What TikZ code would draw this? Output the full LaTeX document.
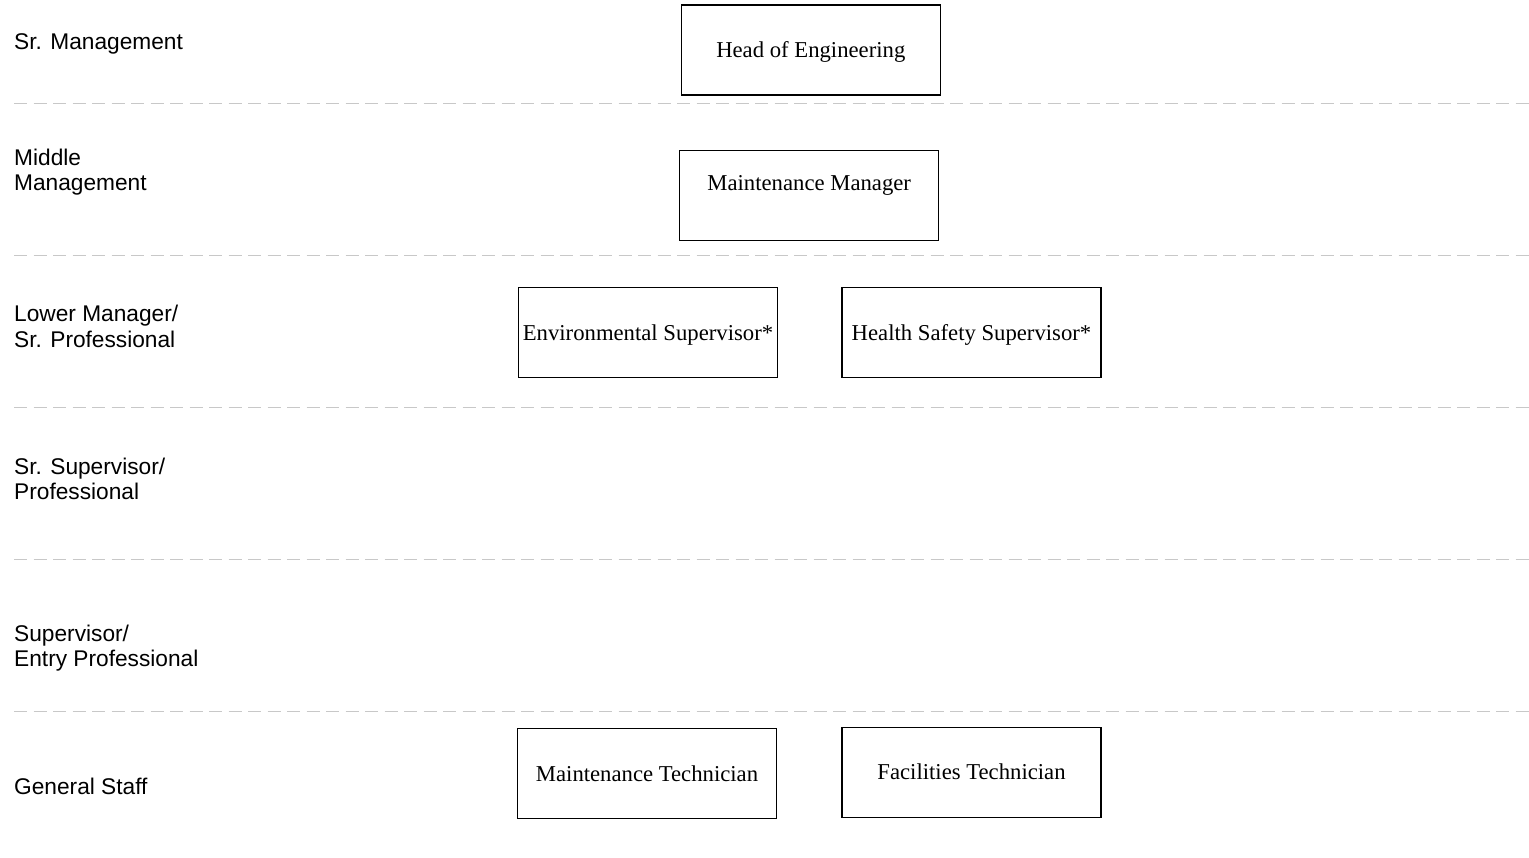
\documentclass[tikz,border=0pt]{standalone}
\usepackage{fontspec}
\setmainfont{Liberation Serif}
\newfontfamily\lblfont{Liberation Sans}
\definecolor{sepgray}{RGB}{200,200,200}
\begin{document}
\begin{tikzpicture}[x=1pt,y=-1pt,
  sep/.style={draw=sepgray,line width=1.5pt,dash pattern=on 13pt off 6.5pt},
  lvl/.style={anchor=base west,align=left,inner sep=0pt,font=\lblfont\fontsize{22.7}{25.3}\selectfont},
  box/.style={draw=black,line width=1.4pt,minimum width=259pt,minimum height=90pt,inner sep=0pt,
    text height=20pt,text depth=5pt,font=\fontsize{22.7}{25.3}\selectfont}]
\useasboundingbox (0,0) rectangle (1529,858);
\fill[white] (0,0) rectangle (1529,858);
% separators
\foreach \yy/\nm in {103.3/a,255.3/b,407.3/c,559.3/d,711.3/e}{
  \coordinate (s\nm l) at (14,\yy);
  \coordinate (s\nm r) at (1529,\yy);
  \draw[sep] (s\nm l) -- (s\nm r);
}
% level labels (base = baseline of last line)
\node[lvl] (l1) at (14,50) {Sr. Management};
\node[lvl] (l2) at (14,191) {Middle\\Management};
\node[lvl] (l3) at (14,347.3) {Lower Manager/\\Sr. Professional};
\node[lvl] (l4) at (14,499.3) {Sr. Supervisor/\\Professional};
\node[lvl] (l5) at (14,666.3) {Supervisor/\\Entry Professional};
\node[lvl] (l6) at (14,794) {General Staff};
% boxes
\node[box] (hoe) at (810.8,50) {Head of Engineering};
\node[box,text height=10pt,text depth=20pt] (mm) at (809.2,195.8) {Maintenance Manager};
\node[box] (env) at (648,332.7) {Environmental Supervisor*};
\node[box] (hs) at (971.5,332.7) {Health Safety Supervisor*};
\node[box] (mt) at (647,773.7) {Maintenance Technician};
\node[box] (ft) at (971.5,772.2) {Facilities Technician};
\end{tikzpicture}
\end{document}
